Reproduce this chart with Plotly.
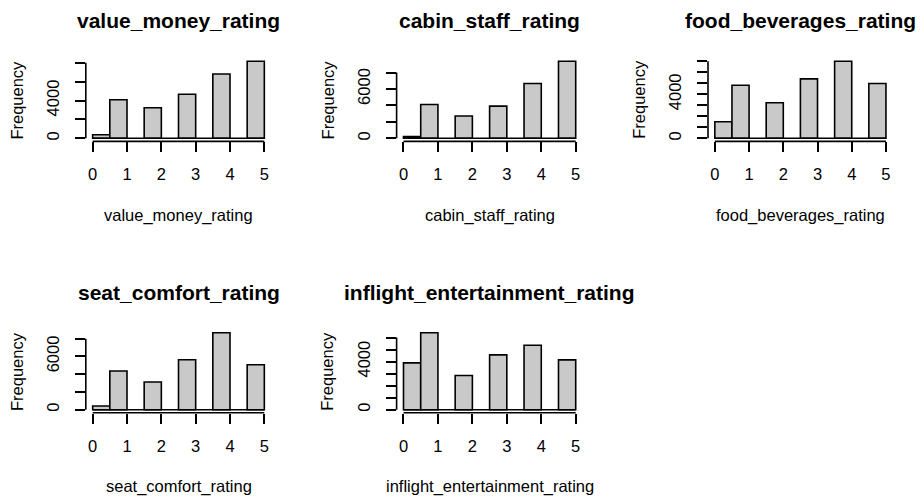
import plotly.graph_objects as go

# ---- data (counts per rating 0..5) ----
ratings = [0, 1, 2, 3, 4, 5]
value_money_rating = [380, 4085, 3238, 4656, 6804, 8148]
cabin_staff_rating = [202, 4121, 2707, 3919, 6667, 9374]
food_beverages_rating = [1509, 4828, 3229, 5401, 7000, 4979]
seat_comfort_rating = [413, 4356, 3118, 5634, 8676, 5070]
inflight_entertainment_rating = [3897, 6410, 2846, 4561, 5362, 4146]

panel_names = ["value_money_rating", "cabin_staff_rating", "food_beverages_rating",
               "seat_comfort_rating", "inflight_entertainment_rating"]
panel_counts = [value_money_rating, cabin_staff_rating, food_beverages_rating,
                seat_comfort_rating, inflight_entertainment_rating]
ytick_step = [2000, 2000, 1000, 2000, 1000]
ytick_shown = [[0, 4000], [0, 6000], [0, 4000], [0, 6000], [0, 4000]]
xtick_vals = [0, 1, 2, 3, 4, 5]
bin_width = 0.5

# ---- layout geometry (pixels) ----
W, H = 924, 497
col_x = [(85.8, 271.2), (396.6, 582.6), (708.0, 892.8)]
row_y = [(58.2, 141.4), (329.6, 412.8)]
row_title_y = [20.7, 292.0]
row_xlab_y = [215.0, 486.0]
positions = [(0, 0), (0, 1), (0, 2), (1, 0), (1, 1)]

FONT = "Liberation Sans, Arial, sans-serif"
BAR_FILL = "#C9C9C9"
LW = 1.6

fig = go.Figure()
shapes = []
annotations = []
layout_axes = {}

for i, (name, counts) in enumerate(zip(panel_names, panel_counts)):
    k = i + 1
    r, c = positions[i]
    xl, xr = col_x[c]
    yt, yb = row_y[r]
    xs = "" if k == 1 else str(k)
    xa, ya = "x" + xs, "y" + xs

    centers = [rt - bin_width / 2 if rt > 0 else bin_width / 2 for rt in ratings]
    fig.add_trace(go.Bar(
        x=centers, y=counts, width=bin_width,
        marker=dict(color=BAR_FILL, line=dict(color="black", width=LW)),
        xaxis=xa, yaxis=ya, hoverinfo="skip"))

    ymax = max(counts)
    step = ytick_step[i]
    yt_vals = list(range(0, int(ymax * 1.04) + 1, step))
    yt_text = [str(v) if v in ytick_shown[i] else "" for v in yt_vals]

    layout_axes["xaxis" + xs] = dict(
        domain=[xl / W, xr / W], anchor=ya, range=[-0.2, 5.2],
        showgrid=False, zeroline=False, showline=False,
        tickmode="array", tickvals=xtick_vals, ticktext=[str(v) for v in xtick_vals],
        ticks="outside", ticklen=10, tickwidth=LW, tickcolor="black",
        tickfont=dict(family=FONT, size=16.5, color="black"), ticklabelstandoff=8,
        fixedrange=True)
    layout_axes["yaxis" + xs] = dict(
        domain=[1 - yb / H, 1 - yt / H], anchor=xa,
        range=[-0.04 * ymax, 1.04 * ymax],
        showgrid=False, zeroline=False, showline=False,
        tickmode="array", tickvals=yt_vals, ticktext=yt_text, tickangle=-90,
        ticks="outside", ticklen=10, tickwidth=LW, tickcolor="black",
        tickfont=dict(family=FONT, size=16.5, color="black"), ticklabelstandoff=9,
        fixedrange=True)

    # axis lines (R style: only between first and last tick)
    shapes.append(dict(type="line", xref=xa, yref=ya + " domain",
                       x0=xtick_vals[0], x1=xtick_vals[-1], y0=0, y1=0,
                       line=dict(color="black", width=LW)))
    shapes.append(dict(type="line", xref=xa + " domain", yref=ya,
                       x0=0, x1=0, y0=yt_vals[0], y1=yt_vals[-1],
                       line=dict(color="black", width=LW)))
    # baseline of zero-count bins
    shapes.append(dict(type="line", xref=xa, yref=ya,
                       x0=0, x1=5, y0=0, y1=0,
                       line=dict(color="black", width=LW)))

    cx = (xl + xr) / 2
    annotations.append(dict(text="<b>%s</b>" % name, xref="paper", yref="paper",
                            x=cx / W, y=1 - row_title_y[r] / H, showarrow=False,
                            xanchor="center", yanchor="middle",
                            font=dict(family=FONT, size=21, color="black")))
    annotations.append(dict(text=name, xref="paper", yref="paper",
                            x=cx / W, y=1 - row_xlab_y[r] / H, showarrow=False,
                            xanchor="center", yanchor="middle",
                            font=dict(family=FONT, size=16.5, color="black")))
    annotations.append(dict(text="Frequency", xref="paper", yref="paper",
                            x=(xl - 69) / W, y=1 - ((yt + yb) / 2) / H, showarrow=False,
                            textangle=-90, xanchor="center", yanchor="middle",
                            font=dict(family=FONT, size=16.5, color="black")))

fig.update_layout(
    width=W, height=H, margin=dict(l=0, r=0, t=0, b=0),
    paper_bgcolor="white", plot_bgcolor="white", showlegend=False,
    shapes=shapes, annotations=annotations, **layout_axes)

fig.write_html("out.html", config={"displayModeBar": False})
